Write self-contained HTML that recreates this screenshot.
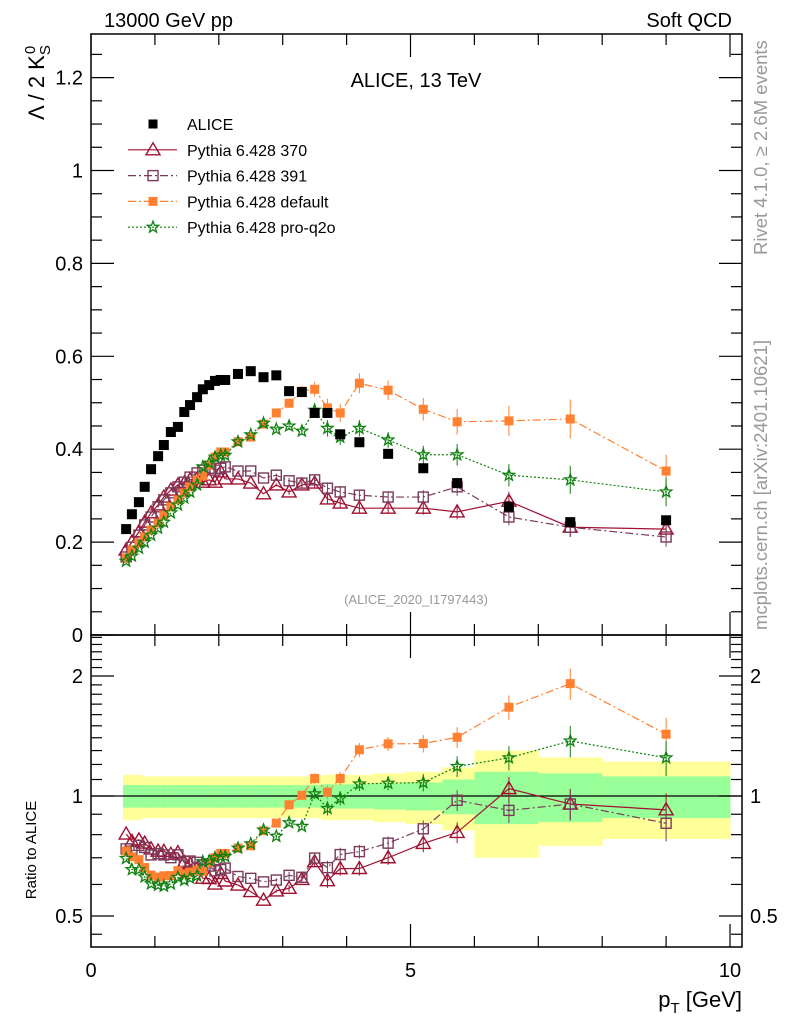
<!DOCTYPE html>
<html><head><meta charset="utf-8"><style>
body{margin:0;background:#fff;}
svg{display:block;font-family:"Liberation Sans",sans-serif;}
</style></head><body>
<svg id="c" width="786" height="1024" viewBox="0 0 786 1024"></svg>
<script>
const xs=[0.55,0.64,0.75,0.84,0.94,1.05,1.14,1.25,1.36,1.46,1.55,1.66,1.75,1.85,1.94,2.03,2.1,2.3,2.5,2.7,2.9,3.1,3.3,3.5,3.7,3.9,4.2,4.65,5.2,5.73,6.54,7.5,9.0];
const alice=[0.228,0.260,0.286,0.319,0.357,0.385,0.409,0.437,0.448,0.480,0.495,0.512,0.529,0.538,0.547,0.549,0.549,0.562,0.568,0.555,0.559,0.525,0.523,0.478,0.478,0.432,0.415,0.390,0.359,0.327,0.276,0.243,0.247];
const statErr=[0.065,0.065,0.065,0.065,0.065,0.065,0.065,0.065,0.065,0.065,0.065,0.065,0.065,0.065,0.065,0.065,0.065,0.065,0.065,0.065,0.065,0.065,0.065,0.065,0.07,0.07,0.07,0.075,0.08,0.1,0.15,0.14,0.12];
const totErr=[0.13,0.13,0.13,0.12,0.12,0.12,0.12,0.12,0.12,0.12,0.12,0.12,0.12,0.12,0.12,0.12,0.12,0.12,0.12,0.12,0.12,0.12,0.12,0.12,0.13,0.13,0.13,0.14,0.15,0.18,0.3,0.25,0.22];
const p370=[0.183,0.200,0.222,0.243,0.263,0.280,0.297,0.312,0.323,0.327,0.334,0.336,0.329,0.334,0.329,0.351,0.336,0.336,0.327,0.304,0.323,0.308,0.323,0.327,0.293,0.284,0.273,0.273,0.273,0.265,0.288,0.232,0.228];
const p391=[0.168,0.189,0.215,0.237,0.254,0.276,0.291,0.306,0.319,0.329,0.340,0.349,0.355,0.359,0.355,0.359,0.362,0.353,0.353,0.338,0.344,0.332,0.327,0.334,0.316,0.308,0.301,0.297,0.297,0.319,0.254,0.232,0.211];
const pdef=[0.166,0.183,0.198,0.211,0.226,0.241,0.258,0.276,0.291,0.306,0.319,0.334,0.342,0.366,0.383,0.394,0.394,0.416,0.426,0.454,0.478,0.499,0.525,0.529,0.489,0.478,0.542,0.527,0.486,0.459,0.461,0.465,0.353];
const pq2o=[0.159,0.170,0.187,0.200,0.215,0.230,0.243,0.263,0.280,0.295,0.308,0.323,0.362,0.370,0.383,0.387,0.387,0.416,0.431,0.456,0.443,0.450,0.439,0.484,0.445,0.426,0.445,0.420,0.388,0.388,0.344,0.334,0.308];
const mcErrRel=[0,0,0,0,0,0,0,0,0,0,0,0,0,0,0,0,0,0,0,0,0.01,0.02,0.02,0.03,0.04,0.04,0.04,0.04,0.05,0.06,0.07,0.09,0.1];
const yTicks=[0,0.2,0.4,0.6,0.8,1,1.2];
const yTickLabels=["0","0.2","0.4","0.6","0.8","1","1.2"];
const rTicks=[0.5,1,2];
const rTickLabels=["0.5","1","2"];
const xTicks=[0,5,10];
const xTickLabels=["0","5","10"];
const binOverrides={29:[5.5,6],30:[6,7],31:[7,8],32:[8,10]};

const L=91,R=742,T=34,MB=635,RB=947;
const X=v=>91+v*63.9;
const Y=v=>635-v*464.5;
const RY=r=>796-Math.log2(r)*120;
const svg=document.getElementById('c');
const NS='http://www.w3.org/2000/svg';
function mk(tag,attrs,parent){const e=document.createElementNS(NS,tag);for(const k in attrs)e.setAttribute(k,attrs[k]);(parent||svg).appendChild(e);return e;}
function txt(s,attrs,parent){const e=mk('text',attrs,parent);e.textContent=s;return e;}

const gB=mk('g',{});
for(let i=0;i<xs.length;i++){
  let lo=i==0?0.5:(xs[i-1]+xs[i])/2, hi=i==xs.length-1?10:(xs[i]+xs[i+1])/2;
  if(binOverrides[i]){lo=binOverrides[i][0];hi=binOverrides[i][1];}
  if(binOverrides[i+1])hi=binOverrides[i+1][0];
  const y1=mk('rect',{x:X(lo),y:RY(1+totErr[i]),width:X(hi)-X(lo)+0.5,height:RY(1-totErr[i])-RY(1+totErr[i]),fill:'#ffff99'},gB);
  
  const g1=mk('rect',{x:X(lo),y:RY(1+statErr[i]),width:X(hi)-X(lo)+0.5,height:RY(1-statErr[i])-RY(1+statErr[i]),fill:'#99ff99'},gB);
  
}
const one=mk('line',{x1:L,x2:R,y1:RY(1),y2:RY(1),stroke:'#000','stroke-width':1.2});


function marker(type,cx,cy,color,g){
  let e;
  if(type=='sq'){e=mk('rect',{x:cx-5,y:cy-5,width:10,height:10,fill:color},g);}
  else if(type=='osq'){e=mk('rect',{x:cx-5,y:cy-5,width:10,height:10,fill:'#fff','fill-opacity':0,stroke:color,'stroke-width':1.4},g);}
  else if(type=='sqs'){e=mk('rect',{x:cx-4.5,y:cy-4.5,width:9,height:9,fill:color},g);}
  else if(type=='tri'){e=mk('polygon',{points:`${cx},${cy-7} ${cx-7},${cy+5} ${cx+7},${cy+5}`,fill:'none',stroke:color,'stroke-width':1.4},g);}
  else {let p='';for(let k=0;k<10;k++){const r=k%2?2.5:6,a=-Math.PI/2+k*Math.PI/5;p+=(cx+r*Math.cos(a)).toFixed(1)+','+(cy+r*Math.sin(a)).toFixed(1)+' ';}
    e=mk('polygon',{points:p,fill:'none',stroke:color,'stroke-width':1.3},g);}
  
  
}
const series=[
 {name:'pythia-370',vals:p370,color:'#a01030',dash:'',m:'tri'},
 {name:'pythia-391',vals:p391,color:'#7a3a5a',dash:'8,3,2,3',m:'osq'},
 {name:'pythia-default',vals:pdef,color:'#ff8030',dash:'8,3,2,3',m:'sqs'},
 {name:'pythia-pro-q2o',vals:pq2o,color:'#108010',dash:'2,2',m:'star'}
];
function drawSeries(s,yf,ratio){
  const g=mk('g',{});
  
  
  const pts=s.vals.map((v,i)=>[X(xs[i]),yf(ratio?v/alice[i]:v)]);
  const pl=mk('polyline',{points:pts.map(p=>p.join(',')).join(' '),fill:'none',stroke:s.color,'stroke-width':1.2,'stroke-dasharray':s.dash},g);
  
  s.vals.forEach((v,i)=>{
    const e=mcErrRel[i];
    if(e>0){const base=ratio?v/alice[i]:v;
      const b=mk('line',{x1:pts[i][0],x2:pts[i][0],y1:yf(base*(1+e)),y2:yf(base*(1-e)),stroke:s.color,'stroke-width':1},g);
      }
    marker(s.m,pts[i][0],pts[i][1],s.color,g);
  });
}
series.forEach(s=>drawSeries(s,Y,false));
const ga=mk('g',{});
alice.forEach((v,i)=>marker('sq',X(xs[i]),Y(v),'#000',ga));
series.forEach(s=>drawSeries(s,RY,true));

mk('rect',{x:0,y:RB,width:786,height:77,fill:'#fff'});

mk('rect',{x:L,y:T,width:R-L,height:MB-T,fill:'none',stroke:'#000','stroke-width':1.5});
mk('rect',{x:L,y:MB,width:R-L,height:RB-MB,fill:'none',stroke:'#000','stroke-width':1.5});

for(let v=0;v<=1.29;v+=0.05){const y=Y(v);const maj=Math.abs(v*5-Math.round(v*5))<1e-6;
  mk('line',{x1:L,x2:L+(maj?23:11),y1:y,y2:y,stroke:'#000','stroke-width':1.2});
  mk('line',{x1:R,x2:R-(maj?23:11),y1:y,y2:y,stroke:'#000','stroke-width':1.2});}
yTicks.forEach((v,i)=>{const t=txt(yTickLabels[i],{x:L-8,y:Y(v)+7,'font-size':20,'text-anchor':'end'});});
[0.5,0.6,0.7,0.8,0.9,1,2].concat([1.1,1.2,1.3,1.4,1.5,1.6,1.7,1.8,1.9,2.1,2.2,2.3,2.4,2.5,0.45]).forEach(v=>{const y=RY(v);if(y<MB||y>RB)return;const maj=[0.5,1,2].includes(v);
  mk('line',{x1:L,x2:L+(maj?23:11),y1:y,y2:y,stroke:'#000','stroke-width':1.2});
  mk('line',{x1:R,x2:R-(maj?23:11),y1:y,y2:y,stroke:'#000','stroke-width':1.2});});
rTicks.forEach((v,i)=>{
  const a=txt(rTickLabels[i],{x:L-8,y:RY(v)+7,'font-size':20,'text-anchor':'end'});
  const b=txt(rTickLabels[i],{x:R+8,y:RY(v)+7,'font-size':20});});
for(let v=0;v<=10.01;v+=1){const x=X(v);const maj=v%5==0;
  [[MB,-1],[RB,-1],[T,1],[MB,1]].forEach(([y0,d])=>mk('line',{x1:x,x2:x,y1:y0,y2:y0+d*(maj?23:11),stroke:'#000','stroke-width':1.2}));}
xTicks.forEach((v,i)=>{const t=txt(xTickLabels[i],{x:X(v),y:977,'font-size':20,'text-anchor':'middle'});});

const leg=[['ALICE',null],['Pythia 6.428 370',series[0]],['Pythia 6.428 391',series[1]],['Pythia 6.428 default',series[2]],['Pythia 6.428 pro-q2o',series[3]]];
leg.forEach((l,i)=>{const y=124+i*25.8;const g=mk('g',{});
  if(!l[1])marker('sqs',153,y,'#000',g);
  else{mk('line',{x1:128,x2:177,y1:y,y2:y,stroke:l[1].color,'stroke-width':1.2,'stroke-dasharray':l[1].dash},g);marker(l[1].m,153,y,l[1].color,g);}
  txt(l[0],{x:187,y:y+6,'font-size':16},g);});
</script>
<div style="position:absolute;left:0;top:0;width:786px;height:1024px;pointer-events:none">
<svg width="786" height="1024" style="position:absolute;left:0;top:0">
<text x="104" y="27" font-size="20">13000 GeV pp</text>
<text x="732" y="27" font-size="20" text-anchor="end">Soft QCD</text>
<text x="416" y="87" font-size="20" text-anchor="middle">ALICE, 13 TeV</text>
<text x="416" y="604" font-size="13" fill="#999" text-anchor="middle">(ALICE_2020_I1797443)</text>
<text transform="translate(44,120) rotate(-90)" font-size="22">Λ / 2 K<tspan font-size="15" dy="6">S</tspan><tspan font-size="15" dx="-9" dy="-15">0</tspan></text>
<text transform="translate(36,850) rotate(-90)" font-size="15" text-anchor="middle">Ratio to ALICE</text>
<text x="742" y="1007" font-size="22" text-anchor="end">p<tspan font-size="15" dy="6">T</tspan><tspan dy="-6"> [GeV]</tspan></text>
<text transform="translate(767,255) rotate(-90)" font-size="18.5" fill="#999">Rivet 4.1.0, ≥ 2.6M events</text>
<text transform="translate(767,630) rotate(-90)" font-size="18.5" fill="#999">mcplots.cern.ch [arXiv:2401.10621]</text>
</svg></div>
</body></html>
